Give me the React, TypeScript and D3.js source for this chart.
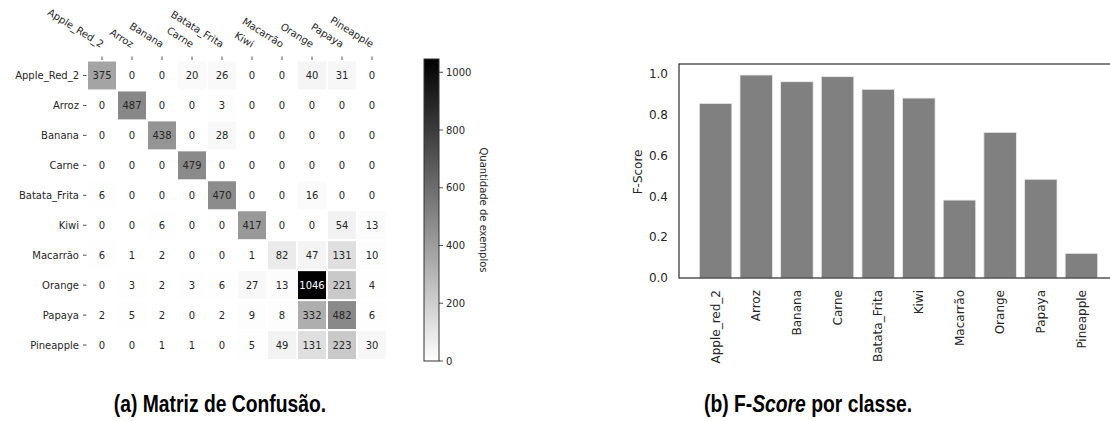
import { useEffect, useRef } from 'react';
import * as d3 from 'd3';

// classes da matriz (linhas = real, colunas = predito)
const matrixLabels = ['Apple_Red_2', 'Arroz', 'Banana', 'Carne', 'Batata_Frita', 'Kiwi', 'Macarrão', 'Orange', 'Papaya', 'Pineapple'];

const row0 = [375, 0, 0, 20, 26, 0, 0, 40, 31, 0];
const row1 = [0, 487, 0, 0, 3, 0, 0, 0, 0, 0];
const row2 = [0, 0, 438, 0, 28, 0, 0, 0, 0, 0];
const row3 = [0, 0, 0, 479, 0, 0, 0, 0, 0, 0];
const row4 = [6, 0, 0, 0, 470, 0, 0, 16, 0, 0];
const row5 = [0, 0, 6, 0, 0, 417, 0, 0, 54, 13];
const row6 = [6, 1, 2, 0, 0, 1, 82, 47, 131, 10];
const row7 = [0, 3, 2, 3, 6, 27, 13, 1046, 221, 4];
const row8 = [2, 5, 2, 0, 2, 9, 8, 332, 482, 6];
const row9 = [0, 0, 1, 1, 0, 5, 49, 131, 223, 30];
const matrixRows = [row0, row1, row2, row3, row4, row5, row6, row7, row8, row9];

const colorbarTicks = [0, 200, 400, 600, 800, 1000];

// F-score por classe
const barLabels = ['Apple_red_2', 'Arroz', 'Banana', 'Carne', 'Batata_Frita', 'Kiwi', 'Macarrão', 'Orange', 'Papaya', 'Pineapple'];
const fScores = [0.856, 0.995, 0.962, 0.987, 0.925, 0.882, 0.382, 0.714, 0.484, 0.121];
const fScoreTicks = [0, 0.2, 0.4, 0.6, 0.8, 1.0];

const FONT = '"DejaVu Sans", sans-serif';
const TXT = '#262626';

const App = () => {
    const svgRef = useRef<SVGSVGElement>(null);

    useEffect(() => {
        if (!svgRef.current) return;
        const svg = d3.select(svgRef.current);
        svg.selectAll('*').remove();

        // ---------- (a) matriz de confusão ----------
        const vmax = d3.max(matrixRows.flat()) as number;
        const x = d3.scaleBand().domain(matrixLabels).range([87, 387]);
        const y = d3.scaleBand().domain(matrixLabels).range([60.5, 360]);
        const color = d3.scaleLinear<string>().domain([0, vmax]).range(['#ffffff', '#000000']);

        const m = svg.append('g').attr('font-family', FONT).attr('font-size', 10);

        const cells = matrixRows.flatMap((row, i) =>
            row.map((v, j) => ({ r: matrixLabels[i], c: matrixLabels[j], v }))
        );

        m.selectAll('rect.cell')
            .data(cells)
            .enter()
            .append('rect')
            .attr('class', 'cell')
            .attr('x', (d) => (x(d.c) as number) + 1)
            .attr('y', (d) => (y(d.r) as number) + 1)
            .attr('width', x.bandwidth() - 2)
            .attr('height', y.bandwidth() - 2)
            .attr('fill', (d) => color(d.v));

        m.selectAll('text.val')
            .data(cells)
            .enter()
            .append('text')
            .attr('class', 'val')
            .attr('x', (d) => (x(d.c) as number) + x.bandwidth() / 2)
            .attr('y', (d) => (y(d.r) as number) + y.bandwidth() / 2)
            .attr('dy', '0.35em')
            .attr('text-anchor', 'middle')
            .attr('fill', (d) => (d.v > vmax / 2 ? '#ffffff' : TXT))
            .text((d) => d.v);

        // rótulos das linhas
        matrixLabels.forEach((lab) => {
            const cy = (y(lab) as number) + y.bandwidth() / 2;
            m.append('line').attr('x1', 83).attr('x2', 86.5).attr('y1', cy).attr('y2', cy).attr('stroke', TXT).attr('stroke-width', 0.8);
            m.append('text').attr('x', 79).attr('y', cy).attr('dy', '0.35em').attr('text-anchor', 'end').attr('fill', TXT).text(lab);
        });

        // rótulos das colunas (inclinados)
        matrixLabels.forEach((lab) => {
            const cx = (x(lab) as number) + x.bandwidth() / 2;
            m.append('line').attr('x1', cx).attr('x2', cx).attr('y1', 56.5).attr('y2', 60).attr('stroke', TXT).attr('stroke-width', 0.8);
            m.append('text')
                .attr('transform', `translate(${cx - 1},48) rotate(32)`)
                .attr('text-anchor', 'end')
                .attr('fill', TXT)
                .text(lab);
        });

        // barra de cores
        const cb = d3.scaleLinear().domain([0, vmax]).range([361, 59]);
        const defs = svg.append('defs');
        const grad = defs.append('linearGradient').attr('id', 'cbgrad').attr('x1', 0).attr('y1', 1).attr('x2', 0).attr('y2', 0);
        grad.append('stop').attr('offset', '0%').attr('stop-color', color(0));
        grad.append('stop').attr('offset', '100%').attr('stop-color', color(vmax));

        m.append('rect')
            .attr('x', 424)
            .attr('y', cb(vmax))
            .attr('width', 15)
            .attr('height', cb(0) - cb(vmax))
            .attr('fill', 'url(#cbgrad)')
            .attr('stroke', '#333')
            .attr('stroke-width', 1);

        colorbarTicks.forEach((t) => {
            m.append('line').attr('x1', 439).attr('x2', 443).attr('y1', cb(t)).attr('y2', cb(t)).attr('stroke', TXT).attr('stroke-width', 0.8);
            m.append('text').attr('x', 446).attr('y', cb(t)).attr('dy', '0.35em').attr('fill', TXT).text(t);
        });

        m.append('text')
            .attr('transform', `translate(480,${(cb(0) + cb(vmax)) / 2}) rotate(90)`)
            .attr('text-anchor', 'middle')
            .attr('fill', TXT)
            .text('Quantidade de exemplos');

        // ---------- (b) F-score ----------
        const bx = d3.scaleBand().domain(barLabels).range([679, 1118]).paddingInner(0.2).paddingOuter(0.5);
        const by = d3.scaleLinear().domain([0, 1.049]).range([278, 64]);

        const b = svg.append('g').attr('font-family', FONT).attr('font-size', 12);

        b.selectAll('rect.bar')
            .data(fScores)
            .enter()
            .append('rect')
            .attr('class', 'bar')
            .attr('x', (_, i) => bx(barLabels[i]) as number)
            .attr('y', (d) => by(d))
            .attr('width', bx.bandwidth())
            .attr('height', (d) => by(0) - by(d))
            .attr('fill', '#808080')
            .attr('stroke', '#ebebeb')
            .attr('stroke-width', 0.8);

        // moldura (à direita fica fora da imagem)
        b.append('rect')
            .attr('x', 679)
            .attr('y', 64)
            .attr('width', 1118 - 679)
            .attr('height', 278 - 64)
            .attr('fill', 'none')
            .attr('stroke', '#333')
            .attr('stroke-width', 1.25);

        fScoreTicks.forEach((t) => {
            b.append('text').attr('x', 668).attr('y', by(t)).attr('dy', '0.35em').attr('text-anchor', 'end').attr('fill', TXT).text(t.toFixed(1));
        });

        b.append('text')
            .attr('transform', `translate(638,${by(0.52)}) rotate(-90)`)
            .attr('dy', '0.35em')
            .attr('text-anchor', 'middle')
            .attr('fill', TXT)
            .text('F-Score');

        barLabels.forEach((lab) => {
            const cx = (bx(lab) as number) + bx.bandwidth() / 2;
            b.append('text')
                .attr('transform', `translate(${cx},290) rotate(-90)`)
                .attr('dy', '0.35em')
                .attr('text-anchor', 'end')
                .attr('fill', TXT)
                .text(lab);
        });

        // ---------- legendas (fonte estreita imitada com scaleX) ----------
        const capStyle = (g: any) =>
            g
                .attr('font-family', '"Liberation Sans", Arial, sans-serif')
                .attr('font-weight', 'bold')
                .attr('font-size', 23)
                .attr('fill', '#000')
                .attr('text-anchor', 'middle');

        svg.append('g')
            .attr('transform', 'translate(220,412) scale(0.84,1)')
            .call(capStyle)
            .append('text')
            .text('(a) Matriz de Confusão.');

        const capB = svg.append('g')
            .attr('transform', 'translate(808,412) scale(0.84,1)')
            .call(capStyle)
            .append('text');
        capB.append('tspan').text('(b) F-');
        capB.append('tspan').attr('font-style', 'italic').text('Score');
        capB.append('tspan').text(' por classe.');
    }, []);

    return (
        <svg
            ref={svgRef}
            width={1110}
            height={421}
            style={{ position: 'absolute', left: 0, top: 0, background: '#fff' }}
        ></svg>
    );
};

export default App;
